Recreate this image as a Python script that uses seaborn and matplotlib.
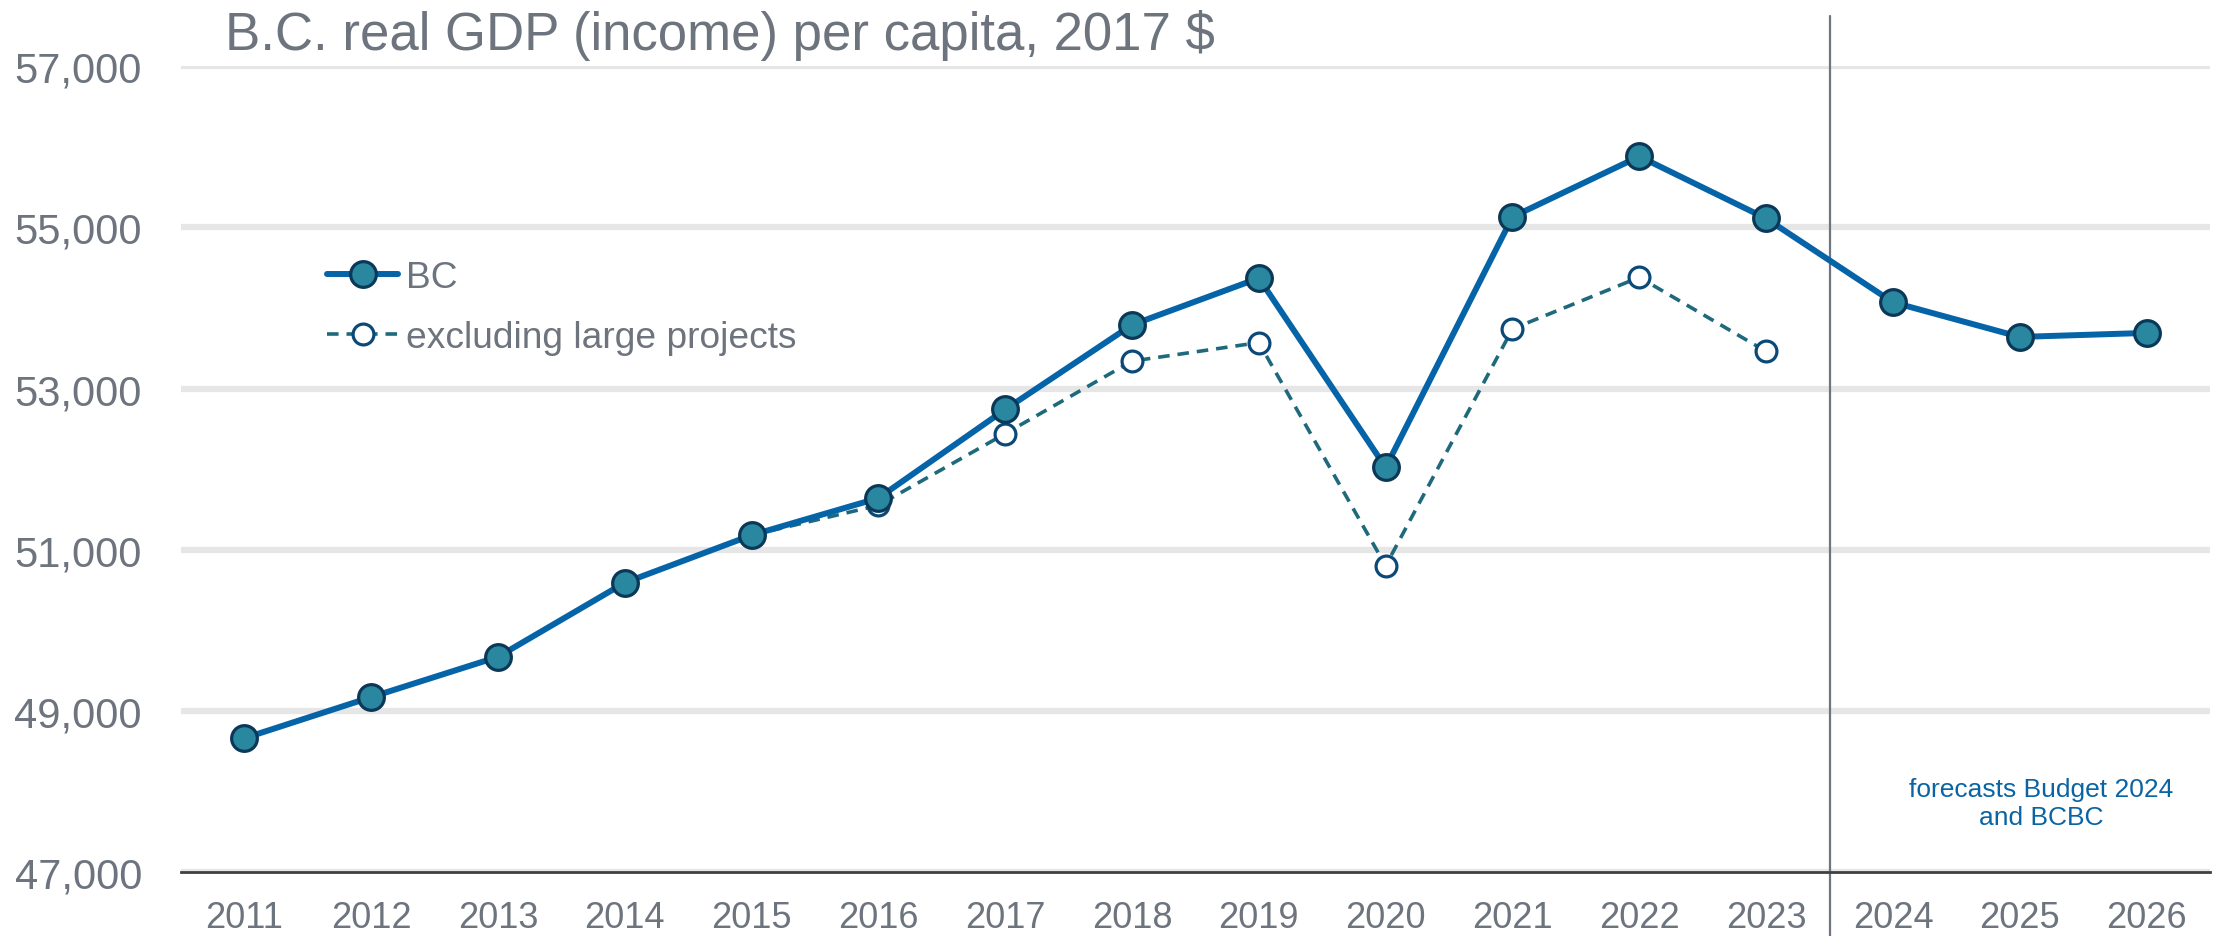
import numpy as np
import pandas as pd
import seaborn as sns
import matplotlib.pyplot as plt

sns.set_style("white")
plt.rcParams['font.family'] = ['Liberation Sans', 'DejaVu Sans']

# data
years = [2011, 2012, 2013, 2014, 2015, 2016, 2017, 2018,
         2019, 2020, 2021, 2022, 2023, 2024, 2025, 2026]
bc = [48660, 49170, 49670, 50590, 51180, 51640, 52740, 53790,
      54370, 52020, 55130, 55880, 55110, 54070, 53640, 53690]
years_excl = [2015, 2016, 2017, 2018, 2019, 2020, 2021, 2022, 2023]
excl = [51180, 51550, 52440, 53340, 53570, 50800, 53740, 54380, 53460]
yticks = [47000, 49000, 51000, 53000, 55000, 57000]

grey_txt = "#6d747d"

fig = plt.figure(figsize=(22.33, 9.37), dpi=100)
ax = fig.add_axes([0.081, 0.0683, 0.9087, 0.860])

sns.lineplot(x=years_excl, y=excl, ax=ax, color="#1e6a7c", lw=2.6,
             dashes=False, linestyle=(0, (3.2, 2.2)),
             marker="o", markersize=15, markerfacecolor="white",
             markeredgecolor="#0b4a78", markeredgewidth=2.3,
             label="excluding large projects", zorder=3)
sns.lineplot(x=years, y=bc, ax=ax, color="#0563a8", lw=4.3,
             marker="o", markersize=18.5, markerfacecolor="#2a87a0",
             markeredgecolor="#0b3858", markeredgewidth=2.3,
             label="BC", zorder=4)

ax.set_xlim(2010.5, 2026.5)
ax.set_ylim(47000, 57000)

# y axis
ax.set_yticks(yticks)
ax.set_yticklabels([f"{v:,}" for v in yticks])
ax.yaxis.grid(True, color="#e6e6e6", lw=4.5, zorder=0)
ax.set_axisbelow(True)
ax.tick_params(axis="y", length=0, pad=28, labelsize=30, labelcolor=grey_txt)

# x axis: ticks on boundaries, labels in the middle
ax.set_xticks(np.arange(2010.5, 2027, 1))
ax.set_xticklabels([])
ax.set_xticks(years, minor=True)
ax.set_xticklabels([str(y) for y in years], minor=True)
ax.tick_params(axis="x", which="major", length=8, width=1.5, color="#404040",
               direction="out")
ax.tick_params(axis="x", which="minor", length=0, pad=20, labelsize=26,
               labelcolor=grey_txt)

for s in ["left", "right", "top"]:
    ax.spines[s].set_visible(False)
ax.spines["bottom"].set_color("#404040")
ax.spines["bottom"].set_linewidth(2)
ax.set_xlabel("")
ax.set_ylabel("")

# forecast divider
ax.axvline(2023.5, ymin=-0.08, ymax=1.062, color="#6e7580", lw=1.6,
           clip_on=False, zorder=2)
ax.text(2025.17, 47860, "forecasts Budget 2024\nand BCBC", ha="center",
        va="center", fontsize=19, color="#0a64a4", linespacing=1.2)

# legend
h, l = ax.get_legend_handles_labels()
order = [l.index("BC"), l.index("excluding large projects")]
ax.legend([h[i] for i in order], [l[i] for i in order],
          loc="center left", bbox_to_anchor=(0.1464, 0.671),
          bbox_transform=fig.transFigure, frameon=False, fontsize=26.7,
          handlelength=1.92, handletextpad=0.22, labelspacing=0.68,
          borderpad=0, borderaxespad=0, labelcolor=grey_txt)

fig.text(0.1008, 0.9466, "B.C. real GDP (income) per capita, 2017 $",
         fontsize=38, color=grey_txt, va="baseline", ha="left")

fig.savefig("out.png", dpi=100)
